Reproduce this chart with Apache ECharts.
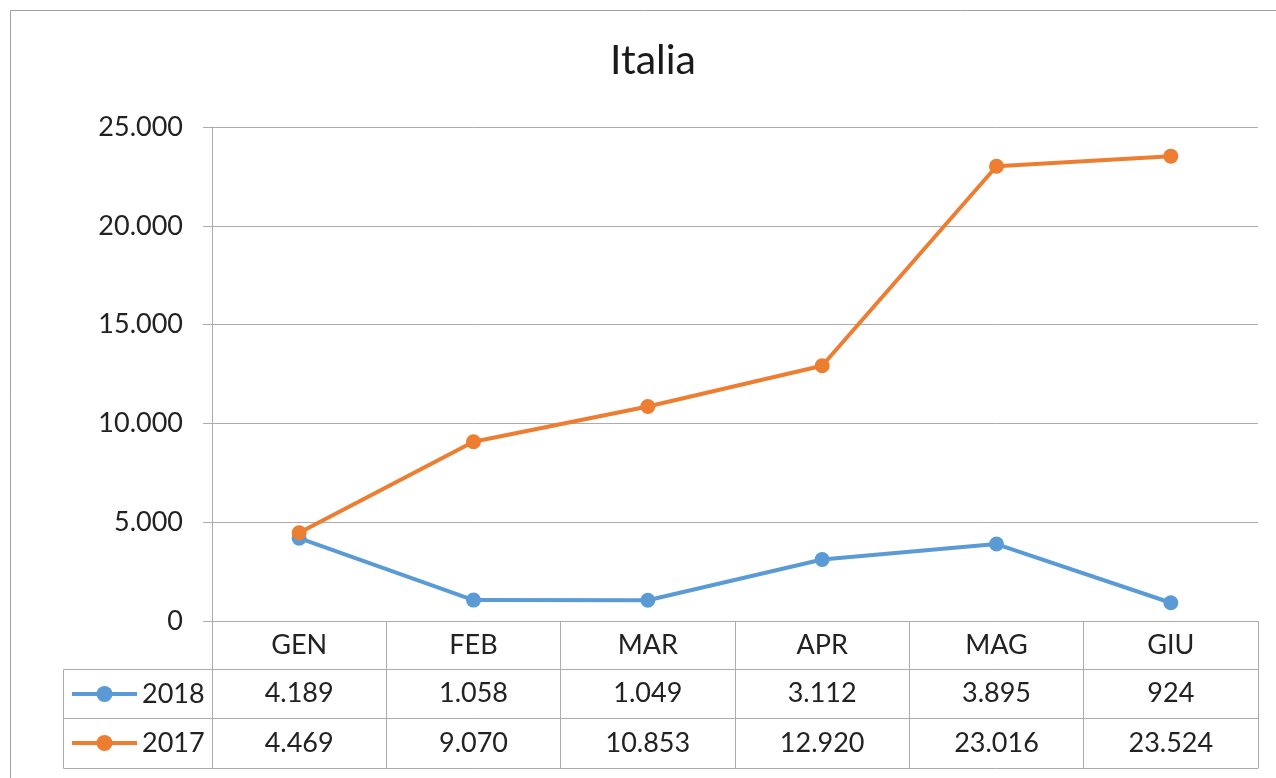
<!DOCTYPE html>
<html>
<head>
<meta charset="utf-8">
<title>Italia</title>
<script src="https://cdn.jsdelivr.net/npm/echarts@6/dist/echarts.min.js"></script>
<style>
  html, body { margin: 0; padding: 0; background: #fff; }
  #chart { width: 1276px; height: 778px; }
</style>
</head>
<body>
<div id="chart"></div>
<script>
const mesi = ["GEN", "FEB", "MAR", "APR", "MAG", "GIU"];
const anni = ["2018", "2017"];
const valori2018 = [4189, 1058, 1049, 3112, 3895, 924];
const valori2017 = [4469, 9070, 10853, 12920, 23016, 23524];
const colori = ["#5B9BD5", "#ED7D31"];

// separatore delle migliaia all'italiana
const fmt = (v) => String(v).replace(/\B(?=(\d{3})+(?!\d))/g, ".");

const testo = { fontFamily: "Lato", fontSize: 27, color: "#222" };
const grigio = "#ABABAB";

// righe della tabella dati sotto il grafico
const rigaTabella = (data, offset, alto) => ({
  type: "category",
  position: "bottom",
  offset,
  data,
  boundaryGap: true,
  axisLine: { show: true, lineStyle: { color: grigio, width: 1 } },
  axisTick: { show: true, interval: 0, length: alto, lineStyle: { color: grigio } },
  axisLabel: { ...testo, interval: 0, margin: alto / 2, verticalAlign: "middle" },
});

// voce di legenda nella prima colonna della tabella
const voceLegenda = (nome, top) => ({
  data: [nome],
  left: 70, top, padding: 0,
  itemWidth: 65, itemHeight: 20,
  selectedMode: false,
  lineStyle: { width: 4 },
  textStyle: { ...testo, lineHeight: 30 },
});

const chart = echarts.init(document.getElementById("chart"));
chart.setOption({
  animation: false,
  title: {
    text: "Italia",
    left: 648,
    top: 35,
    textAlign: "center",
    textStyle: { fontFamily: "Lato", fontSize: 41, fontWeight: "normal", color: "#1a1a1a" },
  },
  grid: { left: 212, right: 18, top: 127, bottom: 157 },
  legend: [voceLegenda(anni[0], 679), voceLegenda(anni[1], 728)],
  xAxis: [
    rigaTabella(mesi, 0, 48),
    rigaTabella(valori2018.map(fmt), 48, 49),
    rigaTabella(valori2017.map(fmt), 97, 50),
    {
      type: "category", position: "bottom", offset: 147, data: mesi,
      axisLine: { show: true, lineStyle: { color: grigio, width: 1 } },
      axisTick: { show: false }, axisLabel: { show: false },
    },
  ],
  yAxis: {
    type: "value",
    min: 0,
    max: 25000,
    interval: 5000,
    axisLine: { show: true, lineStyle: { color: grigio } },
    axisTick: { show: true, length: 9, lineStyle: { color: grigio } },
    splitLine: { show: true, lineStyle: { color: grigio, width: 1 } },
    axisLabel: { ...testo, margin: 29, formatter: fmt },
  },
  series: [
    {
      name: anni[0], type: "line", data: valori2018,
      symbol: "circle", symbolSize: 15,
      itemStyle: { color: colori[0] },
      lineStyle: { color: colori[0], width: 4 },
    },
    {
      name: anni[1], type: "line", data: valori2017,
      symbol: "circle", symbolSize: 15,
      itemStyle: { color: colori[1] },
      lineStyle: { color: colori[1], width: 4 },
    },
  ],
  graphic: [
    // cornice esterna (tagliata a destra e in basso)
    { type: "rect", silent: true, shape: { x: 10.5, y: 10.5, width: 1400, height: 1000 },
      style: { fill: "none", stroke: "#A0A0A0", lineWidth: 1 } },
    // colonna della legenda nella tabella
    { type: "polyline", silent: true,
      shape: { points: [[212, 669.5], [63.5, 669.5], [63.5, 768.5], [212, 768.5]] },
      style: { fill: "none", stroke: grigio, lineWidth: 1 } },
    { type: "line", silent: true, shape: { x1: 63.5, y1: 718.5, x2: 212, y2: 718.5 },
      style: { stroke: grigio, lineWidth: 1 } },
  ],
});
</script>
</body>
</html>
